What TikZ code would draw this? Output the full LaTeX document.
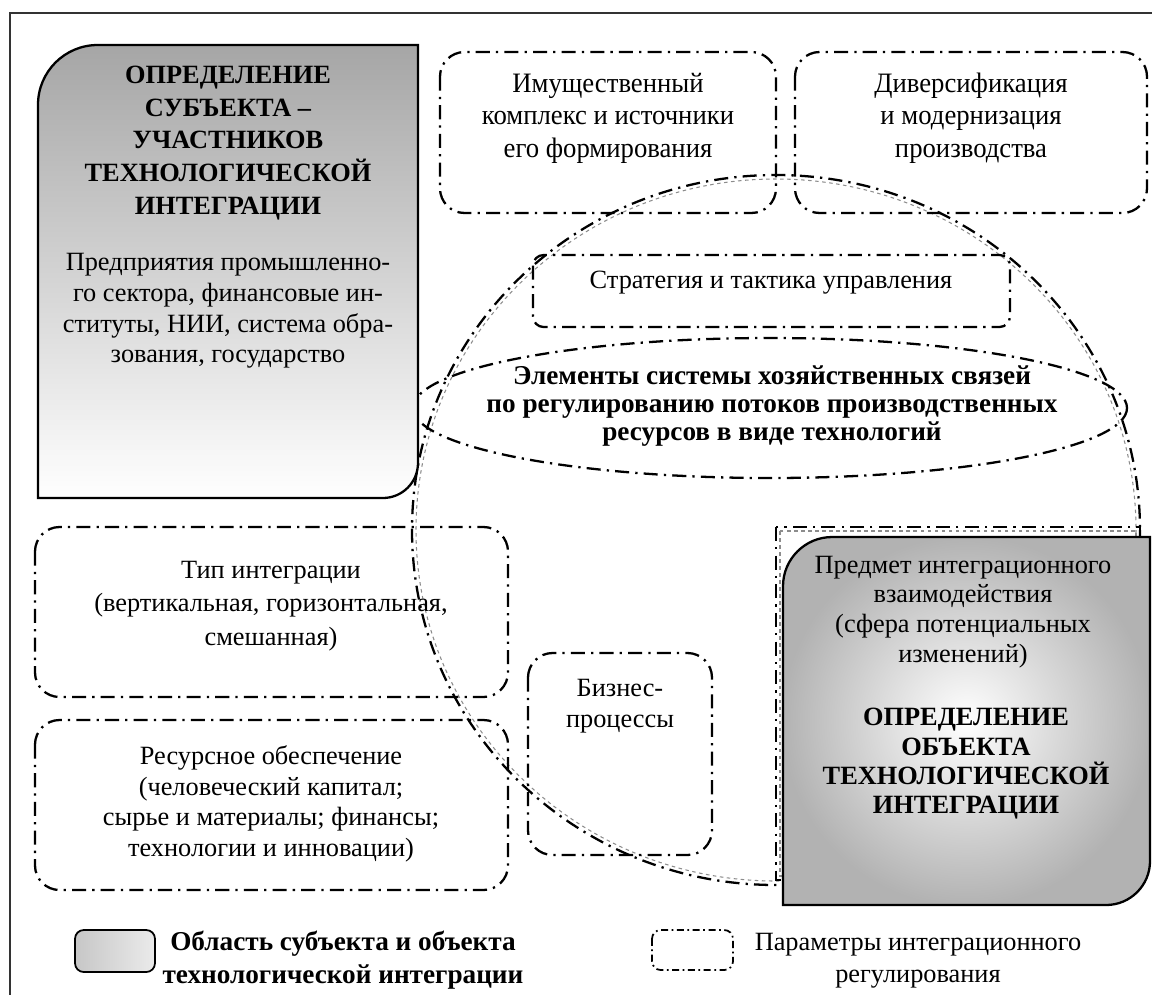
\documentclass[tikz,border=0pt]{standalone}
\usepackage{fontspec}
\setmainfont{Liberation Serif}
\newfontfamily\narrowfont[FakeStretch=0.95]{Liberation Serif}
\tikzset{
  param/.style={line width=1.3pt, dash pattern=on 8pt off 3.5pt on 1.3pt off 3.5pt, rounded corners=14pt},
  shadowline/.style={black!45, line width=0.6pt, dash pattern=on 2pt off 2pt},
  area/.style={draw=black, line width=1.3pt},
  txt/.style={font=\fontsize{15}{17.4}\selectfont, align=center, inner sep=0pt},
  ttl/.style={font=\fontsize{15}{18.6}\selectfont\bfseries, align=center, inner sep=0pt}
}

\begin{document}
\begin{tikzpicture}[x=0.02cm, y=-0.02cm]
\useasboundingbox (0,0) rectangle (1152,994);
% frame
\draw[black!80, line width=1.2pt] (10,1010) -- (10,13) -- (1170,13);
% dome of the regulated field
\draw[shadowline] (776,530) ellipse [x radius=360, y radius=351];
\draw[param] (776,530) ellipse [x radius=364, y radius=355];
% field behind the object
\draw[shadowline] (780,531) rectangle (1136,876);
\draw[param, sharp corners] (776,527) rectangle (1140,880);
% parameter boxes
\draw[param] (440,52) rectangle (776,213);
\draw[param] (795,52) rectangle (1147,213);
\draw[param, rounded corners=6pt] (533,255) rectangle (1010,327);
\draw[param] (770,408) ellipse [x radius=357, y radius=70];
\draw[param] (35,527) rectangle (508,697);
\draw[param] (35,720) rectangle (508,890);
\draw[param] (528,653) rectangle (712,855);
% subject and object areas
\shadedraw[area, top color=black!35, bottom color=white]
  (228,45) -- (418,45) [rounded corners=20pt] -- (418,498) [sharp corners] -- (38,498)
  [rounded corners=34pt] -- (38,45) [sharp corners] -- cycle;
\shadedraw[area, inner color=white, outer color=black!30]
  (966,537) -- (1150,537) [rounded corners=25pt] -- (1150,905) [sharp corners] -- (783,905)
  [rounded corners=28pt] -- (783,537) [sharp corners] -- cycle;

\node[ttl] (subjtitle) at (228,143) {ОПРЕДЕЛЕНИЕ\\СУБЪЕКТА –\\УЧАСТНИКОВ\\ТЕХНОЛОГИЧЕСКОЙ\\ИНТЕГРАЦИИ};
\node[txt] (subjtext) at (228,311) {Предприятия промышленно-\\го сектора, финансовые ин-\\ституты, НИИ, система обра-\\зования, государство};
\node[txt, font=\fontsize{16}{18.5}\narrowfont] (imush) at (608,118) {Имущественный\\комплекс и источники\\его формирования};
\node[txt, font=\fontsize{16}{18.5}\narrowfont] (divers) at (971,118) {Диверсификация\\и модернизация\\производства};
\node[txt] (strat) at (771,283) {Стратегия и тактика управления};
\node[txt, font=\fontsize{15.5}{16}\selectfont\bfseries] (elem) at (772,406) {Элементы системы хозяйственных связей\\по регулированию потоков производственных\\ресурсов в виде технологий};
\node[txt, font=\fontsize{15}{19}\selectfont] (tip) at (271,606) {Тип интеграции\\(вертикальная, горизонтальная,\\смешанная)};
\node[txt] (resurs) at (271,804) {Ресурсное обеспечение\\(человеческий капитал;\\сырье и материалы; финансы;\\технологии и инновации)};
\node[txt] (biznes) at (620,706) {Бизнес-\\процессы};
\node[txt, font=\fontsize{15}{16.9}\selectfont] (objtext) at (963,612) {Предмет интеграционного\\взаимодействия\\(сфера потенциальных\\изменений)};
\node[ttl, font=\fontsize{15}{16.7}\selectfont\bfseries] (objtitle) at (966,764) {ОПРЕДЕЛЕНИЕ\\ОБЪЕКТА\\ТЕХНОЛОГИЧЕСКОЙ\\ИНТЕГРАЦИИ};

% legend
\shadedraw[area, line width=1pt, rounded corners=5pt, shading angle=45, left color=black!22, right color=black!8] (75,930) rectangle (155,972);
\node[txt, font=\fontsize{15.5}{18.4}\selectfont\bfseries] (legarea) at (343,960) {Область субъекта и объекта\\технологической интеграции};
\draw[param, line width=1pt, dash pattern=on 4pt off 2pt on 1pt off 2pt, rounded corners=5pt] (652,930) rectangle (733,970);
\node[txt, font=\fontsize{15}{18.4}\selectfont] (legparam) at (918,961) {Параметры интеграционного\\регулирования};
\end{tikzpicture}
\end{document}
